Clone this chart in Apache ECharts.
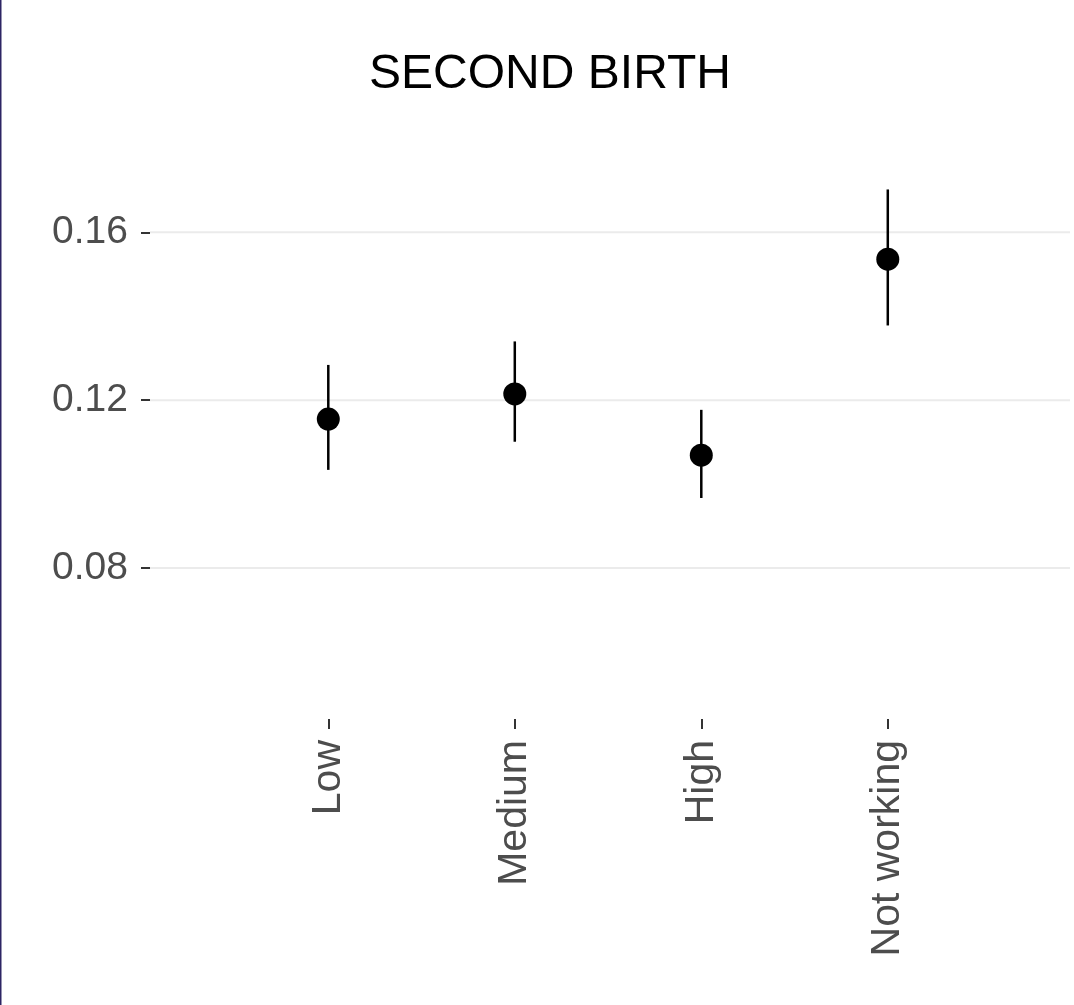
<!DOCTYPE html>
<html>
<head>
<meta charset="utf-8">
<script src="https://cdn.jsdelivr.net/npm/echarts@6/dist/echarts.min.js"></script>
<style>
html,body{margin:0;padding:0;background:#fff;}
#chart{width:1074px;height:1005px;}
</style>
</head>
<body>
<div id="chart"></div>
<script>
const categories = ['Low', 'Medium', 'High', 'Not working'];
const estimates = [0.1155, 0.1215, 0.1069, 0.1536];
const lower = [0.1034, 0.1101, 0.0967, 0.1378];
const upper = [0.1284, 0.1340, 0.1177, 0.1702];
const yTicks = [0.08, 0.12, 0.16];
const titleText = 'SECOND BIRTH';

const FONT = "Arial, 'Liberation Sans', sans-serif";
const xPos = categories.map((c, i) => i + 1);

const chart = echarts.init(document.getElementById('chart'));
chart.setOption({
  animation: false,
  backgroundColor: '#ffffff',
  title: {
    text: titleText,
    left: 545,
    top: 46,
    textAlign: 'center',
    textStyle: { fontFamily: FONT, fontSize: 48, fontWeight: 'normal', color: '#000000' }
  },
  graphic: [{
    type: 'rect',
    shape: { x: 0, y: 0, width: 1.5, height: 1005 },
    style: { fill: '#2d2564' },
    silent: true
  }],
  grid: { left: 150, right: 4, top: 150, bottom: 286, containLabel: false },
  xAxis: {
    type: 'value',
    min: 0.044,
    max: 4.977,
    axisLine: { show: false },
    splitLine: { show: false },
    axisTick: { show: true, customValues: xPos, length: 10, lineStyle: { color: '#333333', width: 2 } },
    axisLabel: {
      customValues: xPos,
      rotate: 90,
      margin: 21,
      formatter: v => categories[Math.round(v) - 1] || '',
      fontFamily: FONT, fontSize: 41, color: '#4d4d4d'
    }
  },
  yAxis: {
    type: 'value',
    min: 0.04405,
    max: 0.1796,
    axisLine: { show: false },
    splitLine: { show: false },
    axisTick: { show: true, customValues: yTicks, length: 9, lineStyle: { color: '#333333', width: 2 } },
    axisLabel: {
      customValues: yTicks,
      margin: 22,
      formatter: v => v.toFixed(2),
      fontFamily: FONT, fontSize: 39, color: '#4d4d4d'
    }
  },
  series: [
    {
      type: 'custom',
      z: 1,
      silent: true,
      clip: false,
      data: yTicks.map(v => [1, v]),
      renderItem: (params, api) => {
        const cs = params.coordSys;
        const y = api.coord([1, api.value(1)])[1];
        return {
          type: 'line',
          shape: { x1: cs.x, y1: y, x2: cs.x + cs.width, y2: y },
          style: { stroke: '#ebebeb', lineWidth: 2 }
        };
      }
    },
    {
      type: 'custom',
      z: 2,
      silent: true,
      data: categories.map((c, i) => [xPos[i], lower[i], upper[i]]),
      renderItem: (params, api) => {
        const p1 = api.coord([api.value(0), api.value(1)]);
        const p2 = api.coord([api.value(0), api.value(2)]);
        return {
          type: 'line',
          shape: { x1: p1[0], y1: p1[1], x2: p2[0], y2: p2[1] },
          style: { stroke: '#000000', lineWidth: 2.5 }
        };
      }
    },
    {
      type: 'scatter',
      z: 3,
      silent: true,
      symbol: 'circle',
      symbolSize: 23,
      itemStyle: { color: '#000000', opacity: 1 },
      data: categories.map((c, i) => [xPos[i], estimates[i]])
    }
  ]
});
</script>
</body>
</html>
